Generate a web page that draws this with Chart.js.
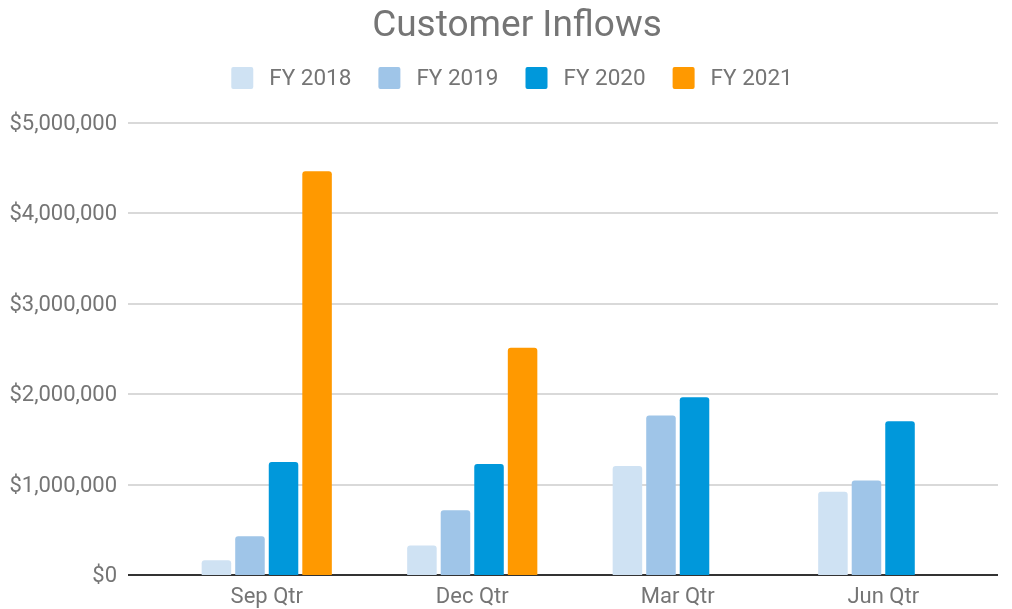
<!DOCTYPE html>
<html>
<head>
<meta charset="utf-8">
<script src="https://cdn.jsdelivr.net/npm/chart.js@4"></script>
<style>
  html, body { margin: 0; padding: 0; background: #fff; }
  #wrap { width: 1012px; height: 609px; }
</style>
</head>
<body>
<div id="wrap"><canvas id="chart"></canvas></div>
<script>
const quarters = ["Sep Qtr", "Dec Qtr", "Mar Qtr", "Jun Qtr"];
const fy2018 = [163000, 326000, 1205000, 920000];
const fy2019 = [430000, 715000, 1764000, 1046000];
const fy2020 = [1250000, 1227000, 1967000, 1700000];
const fy2021 = [4465000, 2514000, null, null];
const yTicks = [0, 1000000, 2000000, 3000000, 4000000, 5000000];

const TEXT = "#757575";
const FONT = "Roboto";

function money(v) {
  return "$" + Number(v).toLocaleString("en-US");
}

// grid lines run a bit past the plot area, y labels sit left of them
const axisPlugin = {
  id: "wideGrid",
  beforeDatasetsDraw(chart) {
    const { ctx, chartArea, scales } = chart;
    const x0 = chartArea.left - 36;
    const x1 = chartArea.right + 12;
    ctx.save();
    ctx.font = `22px ${FONT}`;
    ctx.fillStyle = TEXT;
    ctx.textAlign = "right";
    ctx.textBaseline = "middle";
    yTicks.forEach((v) => {
      const y = Math.round(scales.y.getPixelForValue(v));
      ctx.beginPath();
      ctx.strokeStyle = v === 0 ? "#333333" : "#cccccc";
      ctx.lineWidth = v === 0 ? 2 : 1.5;
      ctx.moveTo(x0, y);
      ctx.lineTo(x1, y);
      ctx.stroke();
      ctx.fillText(money(v), x0 - 11, y + 1);
    });
    ctx.restore();
  },
};

// legend drawn by hand so the box/text gaps match
const legendPlugin = {
  id: "flatLegend",
  afterDraw(chart) {
    const { ctx } = chart;
    const sets = chart.data.datasets;
    const box = 22, gap = 16, spacing = 27;
    ctx.save();
    ctx.font = `22.5px ${FONT}`;
    const widths = sets.map((d) => ctx.measureText(d.label).width);
    const total = widths.reduce((a, w) => a + box + gap + w, 0) + spacing * (sets.length - 1);
    let x = chart.width / 2 + 6 - total / 2;
    const cy = 78;
    sets.forEach((d, i) => {
      ctx.fillStyle = d.backgroundColor;
      ctx.beginPath();
      ctx.roundRect(x, cy - box / 2, box, box, 2);
      ctx.fill();
      ctx.fillStyle = TEXT;
      ctx.textAlign = "left";
      ctx.textBaseline = "middle";
      ctx.fillText(d.label, x + box + gap, cy + 1.5);
      x += box + gap + widths[i] + spacing;
    });
    ctx.restore();
  },
};

function dataset(label, data, color) {
  return {
    label,
    data,
    backgroundColor: color,
    borderWidth: 0,
    borderRadius: { topLeft: 3, topRight: 3 },
    borderSkipped: "bottom",
    categoryPercentage: 0.653,
    barPercentage: 0.88,
  };
}

new Chart(document.getElementById("chart"), {
  type: "bar",
  data: {
    labels: quarters,
    datasets: [
      dataset("FY 2018", fy2018, "#cfe2f3"),
      dataset("FY 2019", fy2019, "#9fc5e8"),
      dataset("FY 2020", fy2020, "#0098db"),
      dataset("FY 2021", fy2021, "#ff9900"),
    ],
  },
  options: {
    responsive: true,
    maintainAspectRatio: false,
    animation: false,
    layout: { padding: { left: 48, right: 26, top: 0, bottom: 0 } },
    plugins: {
      title: {
        display: true,
        text: "Customer Inflows",
        color: TEXT,
        font: { family: FONT, size: 37, weight: "normal" },
        padding: { top: 5, bottom: 73.6 },
      },
      legend: { display: false },
      tooltip: { enabled: false },
    },
    scales: {
      x: {
        grid: { display: false, drawTicks: false },
        border: { display: false },
        ticks: {
          color: TEXT,
          font: { family: FONT, size: 22 },
          padding: 9,
        },
        afterFit: (scale) => { scale.height = 34; },
      },
      y: {
        min: 0,
        max: 5000000,
        grid: { display: false, drawTicks: false },
        border: { display: false },
        afterBuildTicks: (scale) => {
          scale.ticks = yTicks.map((v) => ({ value: v }));
        },
        ticks: { display: false },
        afterFit: (scale) => { scale.width = 116; },
      },
    },
  },
  plugins: [axisPlugin, legendPlugin],
});
</script>
</body>
</html>
